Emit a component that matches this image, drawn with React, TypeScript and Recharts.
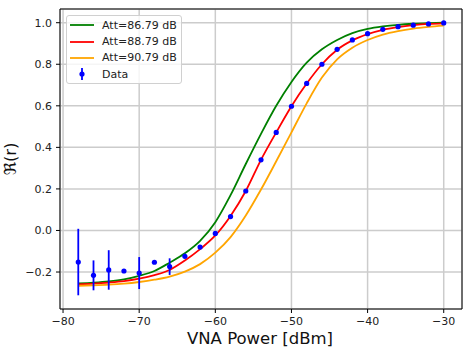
import {
  CartesianGrid,
  ComposedChart,
  ErrorBar,
  Label,
  Line,
  ReferenceArea,
  Scatter,
  XAxis,
  YAxis,
} from 'recharts'

// VNA power sweep (dBm)
const power = [
  -78, -76, -74, -72, -70, -68, -66, -64, -62, -60, -58, -56, -54, -52, -50, -48, -46, -44, -42, -40, -38, -36,
  -34, -32, -30,
]

// measured Re(r) with 1-sigma error
const measured = [
  -0.152, -0.216, -0.19, -0.195, -0.205, -0.153, -0.174, -0.124, -0.08, -0.014, 0.067, 0.19, 0.34, 0.472, 0.598,
  0.708, 0.8, 0.872, 0.917, 0.947, 0.968, 0.981, 0.988, 0.994, 0.999,
]
const measuredErr = [
  0.16, 0.072, 0.095, 0.006, 0.077, 0.005, 0.04, 0.012, 0.008, 0.005, 0.004, 0.003, 0.003, 0.003, 0.003, 0.003,
  0.003, 0.003, 0.003, 0.003, 0.003, 0.003, 0.003, 0.003, 0.003,
]

// model curves for three attenuation values
const fitAtt8679 = [
  -0.255, -0.251, -0.245, -0.235, -0.218, -0.195, -0.155, -0.11, -0.05, 0.04, 0.17, 0.32, 0.465, 0.6, 0.715, 0.808,
  0.872, 0.917, 0.95, 0.97, 0.982, 0.99, 0.995, 0.998, 1.0,
]
const fitAtt8879 = [
  -0.259, -0.256, -0.251, -0.244, -0.232, -0.215, -0.19, -0.145, -0.09, -0.024, 0.07, 0.19, 0.34, 0.472, 0.598,
  0.707, 0.8, 0.87, 0.915, 0.945, 0.966, 0.979, 0.988, 0.994, 0.997,
]
const fitAtt9079 = [
  -0.266, -0.264, -0.261, -0.256, -0.248, -0.237, -0.222, -0.198, -0.162, -0.107, -0.032, 0.072, 0.197, 0.333,
  0.472, 0.612, 0.736, 0.824, 0.88, 0.917, 0.943, 0.96, 0.972, 0.98, 0.986,
]

const xTicks = [-80, -70, -60, -50, -40, -30]
const yTicks = [-0.2, 0, 0.2, 0.4, 0.6, 0.8, 1.0]
const xDomain: [number, number] = [-80.4, -27.6]
const yDomain: [number, number] = [-0.378, 1.066]

const curves = [
  { key: 'a', name: 'Att=86.79 dB', color: 'green', values: fitAtt8679 },
  { key: 'b', name: 'Att=88.79 dB', color: 'red', values: fitAtt8879 },
  { key: 'c', name: 'Att=90.79 dB', color: 'orange', values: fitAtt9079 },
]

const curveRows = power.map((x, i) => ({
  x,
  a: fitAtt8679[i],
  b: fitAtt8879[i],
  c: fitAtt9079[i],
}))

const points = power.map((x, i) => ({ x, y: measured[i], err: measuredErr[i] }))

const FONT = '"DejaVu Sans", sans-serif'
const minus = (s: string) => s.replace('-', '\u2212')

function DataLegendIcon() {
  return (
    <svg width={24} height={14}>
      <line x1={12} y1={1} x2={12} y2={13} stroke="blue" strokeWidth={1.8} />
      <circle cx={12} cy={7} r={2.6} fill="blue" />
    </svg>
  )
}

function ChartLegend() {
  const row = { display: 'flex', alignItems: 'center', height: 16.4 } as const
  return (
    <div
      style={{
        position: 'absolute',
        left: 66,
        top: 15,
        width: 116,
        height: 69,
        boxSizing: 'border-box',
        border: '1px solid #d0d0d0',
        borderRadius: 3,
        background: 'rgba(255,255,255,0.8)',
        paddingTop: 1,
        paddingLeft: 3,
        fontFamily: FONT,
        fontSize: 11,
        color: '#222',
      }}
    >
      {curves.map((c) => (
        <div key={c.key} style={row}>
          <svg width={24} height={14}>
            <line x1={0} y1={7} x2={24} y2={7} stroke={c.color} strokeWidth={1.8} />
          </svg>
          <span style={{ marginLeft: 8, whiteSpace: 'nowrap' }}>{c.name}</span>
        </div>
      ))}
      <div style={row}>
        <DataLegendIcon />
        <span style={{ marginLeft: 8 }}>Data</span>
      </div>
    </div>
  )
}

export default function App() {
  return (
    <div style={{ position: 'absolute', left: 0, top: 0, width: 472, height: 347, background: '#fff' }}>
      <ComposedChart width={472} height={347} data={curveRows} margin={{ top: 9, right: 10, bottom: 0, left: 0 }}>
        <CartesianGrid stroke="#cccccc" strokeWidth={1.5} />
        <XAxis
          dataKey="x"
          type="number"
          domain={xDomain}
          ticks={xTicks}
          interval={0}
          allowDataOverflow
          height={38}
          axisLine={false}
          tickLine={{ stroke: '#000' }}
          tickSize={4}
          tickMargin={4}
          tick={{ fontSize: 11, fontFamily: FONT, fill: '#222' }}
          tickFormatter={(v: number) => minus(String(v))}
        >
          <Label
            content={() => (
              <text x={260} y={343.5} textAnchor="middle" fontSize={16.5} fontFamily={FONT} fill="#111">
                VNA Power [dBm]
              </text>
            )}
          />
        </XAxis>
        <YAxis
          type="number"
          domain={yDomain}
          ticks={yTicks}
          interval={0}
          allowDataOverflow
          width={60}
          axisLine={false}
          tickLine={{ stroke: '#000' }}
          tickSize={4}
          tickMargin={4}
          tick={{ fontSize: 11, fontFamily: FONT, fill: '#222' }}
          tickFormatter={(v: number) => minus(v.toFixed(1))}
        >
          <Label
            content={() => (
              <text
                x={16}
                y={159}
                textAnchor="middle"
                fontSize={16.5}
                fontFamily={FONT}
                fill="#111"
                transform="rotate(-90 16 159)"
              >
                ℜ(r)
              </text>
            )}
          />
        </YAxis>

        {/* axes frame */}
        <ReferenceArea
          x1={xDomain[0]}
          x2={xDomain[1]}
          y1={yDomain[0]}
          y2={yDomain[1]}
          fill="none"
          stroke="#000"
          strokeWidth={1}
          ifOverflow="visible"
        />

        {curves.map((c) => (
          <Line
            key={c.key}
            type="monotone"
            dataKey={c.key}
            name={c.name}
            stroke={c.color}
            strokeWidth={1.8}
            dot={false}
            isAnimationActive={false}
          />
        ))}

        <Scatter
          data={points}
          dataKey="y"
          name="Data"
          fill="blue"
          isAnimationActive={false}
          shape={(p: any) => <circle cx={p.cx} cy={p.cy} r={2.6} fill="blue" />}
        >
          <ErrorBar dataKey="err" direction="y" width={0} stroke="blue" strokeWidth={1.8} />
        </Scatter>
      </ComposedChart>
      <ChartLegend />
    </div>
  )
}
